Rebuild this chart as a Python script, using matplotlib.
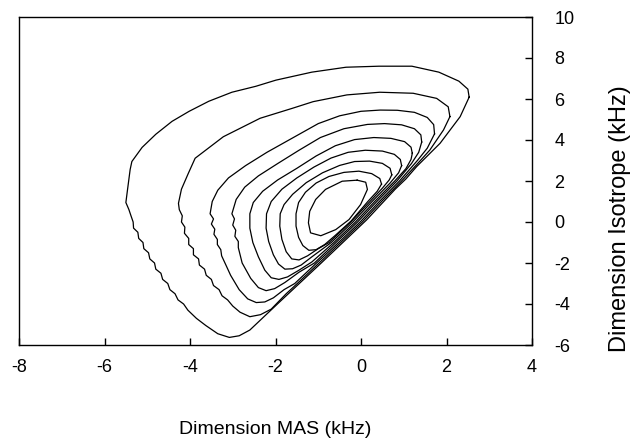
import numpy as np
import matplotlib.pyplot as plt

# contour lines, (x, y) in kHz, outer to inner
c1 = [(2.53, 6.09), (2.50, 6.48), (2.29, 6.87), (1.82, 7.31), (1.19, 7.60), (0.42, 7.60),
      (-0.35, 7.55), (-1.15, 7.31), (-1.99, 6.92), (-2.46, 6.62), (-3.02, 6.33), (-3.56, 5.89),
      (-4.02, 5.40), (-4.42, 4.91), (-4.80, 4.28), (-5.12, 3.64), (-5.36, 2.95), (-5.40, 2.56),
      (-5.47, 1.44), (-5.50, 0.95), (-5.43, 0.61), (-5.38, 0.30), (-5.33, 0.00), (-5.32, -0.30),
      (-5.22, -0.50), (-5.20, -0.80), (-5.10, -1.00), (-5.08, -1.30), (-4.97, -1.50), (-4.94, -1.80),
      (-4.83, -2.00), (-4.80, -2.30), (-4.68, -2.50), (-4.64, -2.80), (-4.52, -3.00), (-4.47, -3.30),
      (-4.35, -3.50), (-4.28, -3.80), (-4.15, -4.00), (-4.05, -4.30), (-3.85, -4.70), (-3.63, -5.05),
      (-3.35, -5.45), (-3.08, -5.63), (-2.85, -5.55), (-2.60, -5.27), (-1.94, -3.97), (-0.93, -2.00),
      (0.13, 0.10), (0.80, 1.60), (1.05, 2.10), (1.30, 2.70), (1.85, 3.84), (2.32, 5.14), (2.53, 6.09)]
c2 = [(2.08, 5.14), (2.04, 5.62), (1.77, 6.03), (1.22, 6.28), (0.44, 6.33), (-0.33, 6.20),
      (-1.12, 5.87), (-1.60, 5.55), (-2.36, 5.06), (-3.22, 4.16), (-3.88, 3.11), (-4.04, 2.37),
      (-4.20, 1.60), (-4.27, 0.91), (-4.25, 0.60), (-4.18, 0.30), (-4.20, 0.00), (-4.12, -0.25),
      (-4.13, -0.55), (-4.03, -0.80), (-4.03, -1.10), (-3.92, -1.30), (-3.92, -1.60), (-3.80, -1.80),
      (-3.78, -2.10), (-3.66, -2.30), (-3.62, -2.60), (-3.50, -2.80), (-3.45, -3.10), (-3.32, -3.30),
      (-3.25, -3.60), (-3.12, -3.80), (-3.00, -4.10), (-2.83, -4.40), (-2.60, -4.62), (-2.35, -4.52),
      (-2.10, -4.25), (-1.75, -3.50), (-1.49, -3.00), (-0.98, -2.00), (-0.475, -1.00), (0.03, 0.00),
      (0.48, 1.00), (0.95, 2.00), (1.39, 3.00), (1.61, 3.51), (1.93, 4.49), (2.08, 5.14)]
c3 = [(1.72, 4.30), (1.70, 4.75), (1.55, 5.10), (1.25, 5.35), (0.85, 5.45), (0.45, 5.46),
      (0.00, 5.40), (-0.50, 5.18), (-1.00, 4.80), (-1.60, 4.10), (-2.20, 3.40), (-2.70, 2.75),
      (-3.10, 2.15), (-3.35, 1.55), (-3.48, 1.00), (-3.53, 0.40), (-3.45, 0.15), (-3.50, -0.10),
      (-3.42, -0.35), (-3.44, -0.60), (-3.36, -0.85), (-3.36, -1.10), (-3.28, -1.35), (-3.26, -1.65),
      (-3.16, -2.10), (-3.05, -2.60), (-2.85, -3.30), (-2.65, -3.75), (-2.45, -3.93), (-2.25, -3.90),
      (-2.05, -3.70), (-1.80, -3.30), (-1.55, -3.00), (-1.04, -2.00), (-0.525, -1.00), (-0.02, 0.00),
      (0.43, 1.00), (0.90, 2.00), (1.32, 3.00), (1.55, 3.60), (1.72, 4.30)]
c4 = [(1.42, 3.90), (1.40, 4.25), (1.25, 4.55), (0.95, 4.74), (0.55, 4.80), (0.15, 4.76),
      (-0.40, 4.55), (-0.95, 4.12), (-1.45, 3.50), (-1.95, 2.85), (-2.40, 2.25), (-2.72, 1.70),
      (-2.92, 1.10), (-3.02, 0.40), (-2.96, 0.15), (-3.00, -0.15), (-2.93, -0.40), (-2.95, -0.70),
      (-2.87, -0.95), (-2.87, -1.25), (-2.78, -2.00), (-2.58, -2.75), (-2.40, -3.20), (-2.22, -3.35),
      (-2.02, -3.25), (-1.78, -2.95), (-1.45, -2.45), (-1.09, -2.00), (-0.585, -1.00), (-0.08, 0.00),
      (0.37, 1.00), (0.84, 2.00), (1.18, 2.85), (1.35, 3.40), (1.42, 3.90)]
c5 = [(1.20, 3.35), (1.17, 3.65), (1.02, 3.92), (0.70, 4.08), (0.30, 4.12), (-0.15, 4.02),
      (-0.60, 3.72), (-1.05, 3.22), (-1.50, 2.62), (-1.95, 2.05), (-2.30, 1.50), (-2.52, 0.95),
      (-2.60, 0.40), (-2.60, -0.30), (-2.53, -1.00), (-2.40, -1.70), (-2.25, -2.35), (-2.10, -2.72),
      (-1.92, -2.80), (-1.72, -2.68), (-1.45, -2.35), (-1.15, -1.95), (-0.635, -1.00), (-0.13, 0.00),
      (0.32, 1.00), (0.79, 2.00), (1.05, 2.60), (1.17, 3.05), (1.20, 3.35)]
c6 = [(0.95, 2.75), (0.92, 3.05), (0.78, 3.30), (0.50, 3.46), (0.10, 3.50), (-0.30, 3.40),
      (-0.70, 3.12), (-1.10, 2.68), (-1.50, 2.15), (-1.85, 1.60), (-2.10, 1.00), (-2.21, 0.40),
      (-2.22, -0.30), (-2.16, -0.95), (-2.05, -1.60), (-1.93, -2.05), (-1.78, -2.30), (-1.60, -2.28),
      (-1.40, -2.10), (-1.15, -1.70), (-0.695, -1.00), (-0.19, 0.00), (0.26, 1.00), (0.68, 1.90),
      (0.88, 2.40), (0.95, 2.75)]
c7 = [(0.72, 2.30), (0.68, 2.62), (0.50, 2.86), (0.20, 2.97), (-0.15, 2.95), (-0.50, 2.76),
      (-0.90, 2.40), (-1.28, 1.92), (-1.60, 1.35), (-1.80, 0.85), (-1.89, 0.40), (-1.90, -0.20),
      (-1.85, -0.85), (-1.75, -1.45), (-1.62, -1.80), (-1.45, -1.85), (-1.25, -1.65), (-1.00, -1.30),
      (-0.745, -1.00), (-0.24, 0.00), (0.21, 1.00), (0.50, 1.65), (0.66, 2.05), (0.72, 2.30)]
c8 = [(0.48, 1.85), (0.44, 2.12), (0.25, 2.36), (-0.05, 2.48), (-0.40, 2.42), (-0.75, 2.22),
      (-1.05, 1.90), (-1.30, 1.45), (-1.46, 0.95), (-1.52, 0.40), (-1.52, -0.20), (-1.46, -0.75),
      (-1.36, -1.15), (-1.22, -1.38), (-1.05, -1.35), (-0.85, -1.10), (-0.60, -0.65), (-0.23, 0.05),
      (0.16, 1.00), (0.38, 1.50), (0.48, 1.85)]
c9 = [(-0.09, 2.04), (-0.44, 1.99), (-0.83, 1.59), (-1.06, 1.10), (-1.20, 0.52), (-1.23, -0.04),
      (-1.18, -0.53), (-0.94, -0.67), (-0.59, -0.37), (-0.28, 0.12), (-0.01, 0.85), (0.15, 1.59),
      (0.11, 1.94), (-0.09, 2.04)]
contours = [c1, c2, c3, c4, c5, c6, c7, c8, c9]

x_ticks = [-8, -6, -4, -2, 0, 2, 4]
y_ticks = [-6, -4, -2, 0, 2, 4, 6, 8, 10]

plt.rcParams['font.family'] = ['Liberation Sans', 'DejaVu Sans']
plt.rcParams['axes.unicode_minus'] = False

fig = plt.figure(figsize=(6.31, 4.41), dpi=100)
ax = fig.add_axes([19 / 631, 1 - 345 / 441, 513 / 631, 328 / 441])

for c in contours:
    pts = np.array(c)
    ax.plot(pts[:, 0], pts[:, 1], color='black', lw=0.9)

ax.set_xlim(-8, 4)
ax.set_ylim(-6, 10)
ax.set_xticks(x_ticks)
ax.set_yticks(y_ticks)
ax.yaxis.tick_right()
ax.tick_params(direction='in', length=5, width=1, labelsize=13)
ax.tick_params(axis='x', pad=10)
ax.tick_params(axis='y', pad=16)
for s in ax.spines.values():
    s.set_linewidth(1)

# axis titles placed like the original
fig.text(275.5 / 631, 1 - 430 / 441, 'Dimension MAS (kHz)', fontsize=14,
         ha='center', va='center')
fig.text(620 / 631, 1 - 219 / 441, 'Dimension Isotrope (kHz)', fontsize=17,
         rotation=90, ha='center', va='center')

fig.savefig('out.png', dpi=100)
